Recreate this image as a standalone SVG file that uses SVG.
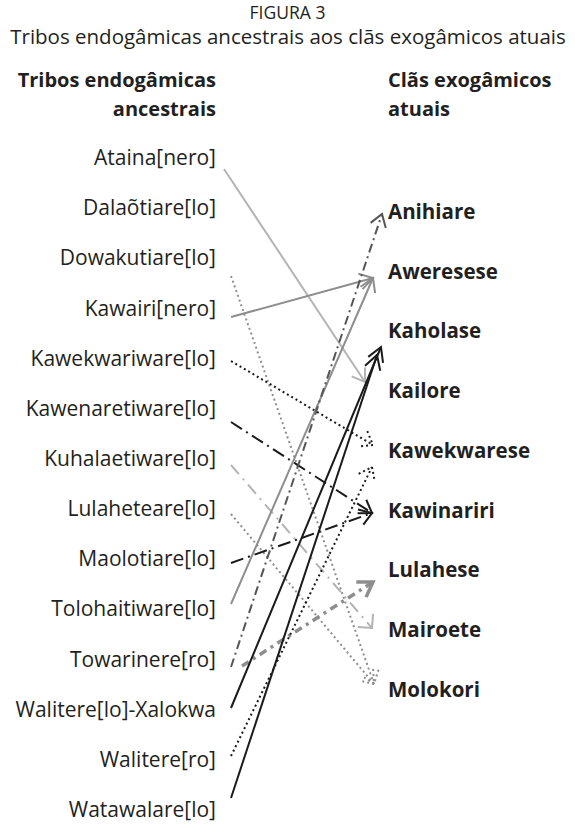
<svg xmlns="http://www.w3.org/2000/svg" width="575" height="825" viewBox="0 0 575 825">
<style>
text{font-family:"Open Sans","Noto Sans","Liberation Sans",sans-serif;fill:#231f20}
.t{font-size:17.5px}
.st{font-size:20.5px}
.h{font-size:20px;font-weight:bold}
.l{font-size:21px;text-anchor:end}
.r{font-size:20.5px;font-weight:bold}
line,path{fill:none;stroke-linecap:butt}
.lg{stroke:#b4b4b4;stroke-width:2}
.mg{stroke:#8e8e8e;stroke-width:2}
.gdot{stroke:#8e8e8e;stroke-width:2;stroke-dasharray:2 3}
.kdot{stroke:#1a1a1a;stroke-width:2;stroke-dasharray:2 3}
.kdd{stroke:#1a1a1a;stroke-width:2;stroke-dasharray:13 5 2 5}
.dgdd{stroke:#555;stroke-width:2;stroke-dasharray:9 4 2 4}
.lgdd{stroke:#b4b4b4;stroke-width:2;stroke-dasharray:12 6 2 6}
.gthk{stroke:#8e8e8e;stroke-width:3.5;stroke-dasharray:8 5 3 5}
.k{stroke:#1a1a1a;stroke-width:2}
</style>
<defs>
<marker id="a-lg" markerUnits="userSpaceOnUse" markerWidth="30" markerHeight="30" refX="0" refY="0" viewBox="-15 -15 30 30" orient="auto" overflow="visible"><path class="lg" d="M-12,-8 L0,0 L-12,8"/></marker>
<marker id="a-mg" markerUnits="userSpaceOnUse" markerWidth="30" markerHeight="30" refX="0" refY="0" viewBox="-15 -15 30 30" orient="auto" overflow="visible"><path class="mg" d="M-13,-8 L0,0 L-13,8"/></marker>
<marker id="a-gdot" markerUnits="userSpaceOnUse" markerWidth="30" markerHeight="30" refX="0" refY="0" viewBox="-15 -15 30 30" orient="auto" overflow="visible"><path class="gdot" d="M-12,-9 L0,0 L-12,9"/></marker>
<marker id="a-kdot" markerUnits="userSpaceOnUse" markerWidth="30" markerHeight="30" refX="0" refY="0" viewBox="-15 -15 30 30" orient="auto" overflow="visible"><path class="kdot" d="M-12,-9 L0,0 L-12,9"/></marker>
<marker id="a-kdd" markerUnits="userSpaceOnUse" markerWidth="30" markerHeight="30" refX="0" refY="0" viewBox="-15 -15 30 30" orient="auto" overflow="visible"><path class="k" d="M-12,-8 L0,0 L-12,8"/></marker>
<marker id="a-dgdd" markerUnits="userSpaceOnUse" markerWidth="30" markerHeight="30" refX="0" refY="0" viewBox="-15 -15 30 30" orient="auto" overflow="visible"><path stroke="#555" stroke-width="2" d="M-12,-8 L0,0 L-12,8"/></marker>
<marker id="a-lgdd" markerUnits="userSpaceOnUse" markerWidth="30" markerHeight="30" refX="0" refY="0" viewBox="-15 -15 30 30" orient="auto" overflow="visible"><path class="lg" d="M-10,-10 L0,0 L-10,10"/></marker>
<marker id="a-gthk" markerUnits="userSpaceOnUse" markerWidth="30" markerHeight="30" refX="0" refY="0" viewBox="-15 -15 30 30" orient="auto" overflow="visible"><path stroke="#8e8e8e" stroke-width="3.5" d="M-14,-9 L0,0 L-14,9"/></marker>
<marker id="a-k" markerUnits="userSpaceOnUse" markerWidth="30" markerHeight="30" refX="0" refY="0" viewBox="-15 -15 30 30" orient="auto" overflow="visible"><path class="k" d="M-14,-8 L0,0 L-14,8"/></marker>
</defs>

<g id="title">
<text class="t" x="287.5" y="19" text-anchor="middle">FIGURA 3</text>
<text class="st" x="288" y="44" text-anchor="middle">Tribos endogâmicas ancestrais aos clãs exogâmicos atuais</text>
</g>
<g id="header-left">
<text class="h" x="216" y="87" text-anchor="end">Tribos endogâmicas</text>
<text class="h" x="216" y="116" text-anchor="end">ancestrais</text>
</g>
<g id="header-right">
<text class="h" x="388" y="87">Clãs exogâmicos</text>
<text class="h" x="388" y="116">atuais</text>
</g>

<g id="connectors">
<line class="lg" x1="224" y1="169" x2="365" y2="382" marker-end="url(#a-lg)"/>
<line class="gdot" x1="231" y1="276" x2="374" y2="684" marker-end="url(#a-gdot)"/>
<line class="mg" x1="231" y1="317" x2="373" y2="278" marker-end="url(#a-mg)"/>
<line class="kdot" x1="231" y1="361" x2="373" y2="445" marker-end="url(#a-kdot)"/>
<line class="kdd" x1="231" y1="422" x2="372" y2="513" marker-end="url(#a-kdd)"/>
<line class="lgdd" x1="231" y1="465" x2="372" y2="628" marker-end="url(#a-lgdd)"/>
<line class="gdot" x1="231" y1="514" x2="374" y2="684" marker-end="url(#a-gdot)"/>
<line class="kdd" x1="231" y1="563" x2="372" y2="513" marker-end="url(#a-kdd)"/>
<line class="mg" x1="231" y1="604" x2="373" y2="278" marker-end="url(#a-mg)"/>
<line class="dgdd" x1="231" y1="667" x2="382" y2="214" marker-end="url(#a-dgdd)"/>
<line class="gthk" x1="242" y1="666" x2="373" y2="582" marker-end="url(#a-gthk)"/>
<line class="k" x1="231" y1="708" x2="381" y2="347" marker-end="url(#a-k)"/>
<line class="kdot" x1="231" y1="756" x2="372" y2="467" marker-end="url(#a-kdot)"/>
<line class="k" x1="231" y1="798" x2="377" y2="355" marker-end="url(#a-k)"/>
</g>

<g id="n-ataina"><text class="l" x="216" y="165">Ataina[nero]</text></g>
<g id="n-dalaotiare"><text class="l" x="216" y="215">Dalaõtiare[lo]</text></g>
<g id="n-dowakutiare"><text class="l" x="216" y="265">Dowakutiare[lo]</text></g>
<g id="n-kawairi"><text class="l" x="216" y="316">Kawairi[nero]</text></g>
<g id="n-kawekwariware"><text class="l" x="216" y="366">Kawekwariware[lo]</text></g>
<g id="n-kawenaretiware"><text class="l" x="216" y="416">Kawenaretiware[lo]</text></g>
<g id="n-kuhalaetiware"><text class="l" x="216" y="466">Kuhalaetiware[lo]</text></g>
<g id="n-lulaheteare"><text class="l" x="216" y="516">Lulaheteare[lo]</text></g>
<g id="n-maolotiare"><text class="l" x="216" y="566">Maolotiare[lo]</text></g>
<g id="n-tolohaitiware"><text class="l" x="216" y="616">Tolohaitiware[lo]</text></g>
<g id="n-towarinere"><text class="l" x="216" y="667">Towarinere[ro]</text></g>
<g id="n-walitere-xalokwa"><text class="l" x="216" y="717">Walitere[lo]-Xalokwa</text></g>
<g id="n-walitere-ro"><text class="l" x="216" y="767">Walitere[ro]</text></g>
<g id="n-watawalare"><text class="l" x="216" y="817">Watawalare[lo]</text></g>

<g id="n-anihiare"><text class="r" x="388" y="219">Anihiare</text></g>
<g id="n-aweresese"><text class="r" x="388" y="279">Aweresese</text></g>
<g id="n-kaholase"><text class="r" x="388" y="338">Kaholase</text></g>
<g id="n-kailore"><text class="r" x="388" y="398">Kailore</text></g>
<g id="n-kawekwarese"><text class="r" x="388" y="458">Kawekwarese</text></g>
<g id="n-kawinariri"><text class="r" x="388" y="518">Kawinariri</text></g>
<g id="n-lulahese"><text class="r" x="388" y="577">Lulahese</text></g>
<g id="n-mairoete"><text class="r" x="388" y="637">Mairoete</text></g>
<g id="n-molokori"><text class="r" x="388" y="697">Molokori</text></g>
</svg>
